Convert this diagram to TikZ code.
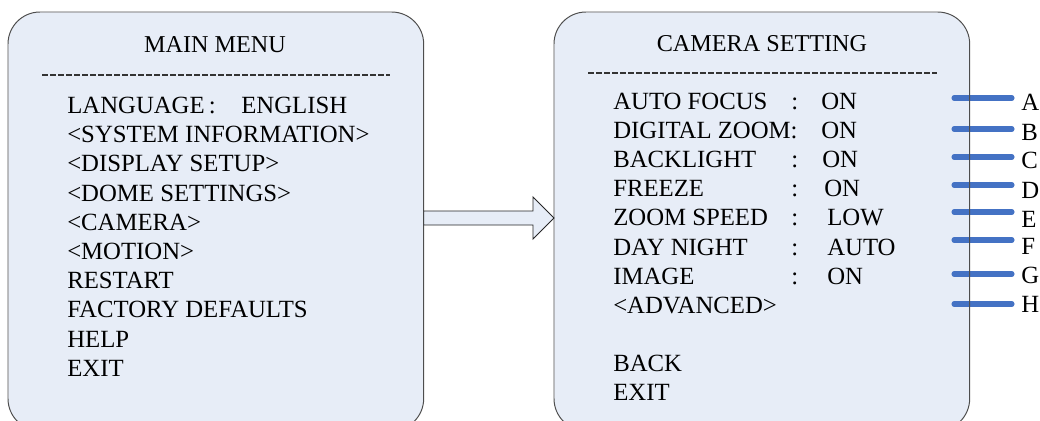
\documentclass[tikz,border=0pt]{standalone}
\usepackage{fontspec}
\setmainfont{Liberation Serif}
\usetikzlibrary{calc}
\definecolor{panelc}{HTML}{E7EDF7}
\definecolor{edgec}{HTML}{4D4D4D}
\definecolor{tickc}{HTML}{4472C4}
\newcommand\menufont{\fontsize{17.6}{20}\selectfont}

\begin{document}
\begin{tikzpicture}[x=0.025cm,y=-0.025cm,
      panel/.style={fill=panelc,anchor=north west,inner sep=0,rounded corners=0.8cm,minimum width=10.375cm,minimum height=10.45cm},
      border/.style={draw=edgec,line width=0.7pt,rounded corners=0.8cm},
      item/.style={anchor=base west,inner sep=0,font=\menufont},
      title/.style={anchor=base,inner sep=0,font=\fontsize{17.2}{20}\selectfont},
      rule/.style={draw=black!80,line width=1.4pt,dash pattern=on 0.15cm off 0.05cm},
      tick/.style={draw=tickc,line width=3.6pt,line cap=round},
      arrowc/.style={draw=black!85,fill=panelc,line width=0.6pt},
    ]
    \path[use as bounding box] (0,0) rectangle (1040,421);
    \clip (0,0) rectangle (1040,421);
    % the two menu panels
    \node[panel] (lbox) at (8,12) {};
    \node[panel] (rbox) at (554,12) {};
    % main menu
    \node[title] (ltitle) at (215,52) {MAIN MENU};
    \draw[rule] (42,75) -- (390,75);
    \foreach \t [count=\i from 0] in {{\makebox[4.35cm][l]{LANGUAGE\,:}ENGLISH},
        <SYSTEM INFORMATION>,<DISPLAY SETUP>,<DOME SETTINGS>,<CAMERA>,
        <MOTION>,RESTART,FACTORY DEFAULTS,HELP,EXIT} {
      \node[item] (lm\i) at (67,{113.5+29.2*\i}) {\t};
    }
    % camera setting
    \node[title] (rtitle) at (762,51) {CAMERA SETTING};
    \draw[rule] (588,73) -- (937,73);
    \foreach \n/\c/\v/\vx [count=\i from 0] in {AUTO FOCUS/:/ON/821,
        DIGITAL ZOOM:/{}/ON/821,BACKLIGHT/:/ON/822,FREEZE/:/ON/824,
        ZOOM SPEED/:/LOW/827,DAY NIGHT/:/AUTO/827,IMAGE/:/ON/827} {
      \node[item] (rm\i) at (613,{109.3+29.15*\i}) {\n};
      \node[item] (rc\i) at (791,{109.3+29.15*\i}) {\c};
      \node[item] (rv\i) at (\vx,{109.3+29.15*\i}) {\v};
    }
    \node[item] (rm7) at (613,313.3) {<ADVANCED>};
    \node[item] (rm9) at (613,371.7) {BACK};
    \node[item] (rm10) at (613,400.8) {EXIT};
    % markers A--H
    \foreach \l/\ly/\b in {A/98/110,B/129/140,C/157/168,D/185/198,
        E/212/227,F/240/254,G/274/283,H/304/312} {
      \coordinate (t\l) at (954,\ly);
      \node[item] (g\l) at (1021,\b) {\l};
      \draw[tick,shorten >=0.225cm] (t\l) -- (t\l -| g\l.west);
    }
    \draw[border] (lbox.north west) rectangle (lbox.south east);
    \draw[border] (rbox.north west) rectangle (rbox.south east);
    % arrow between the panels
    \draw[arrowc] (lbox.east |- 0,211) -- (533,211) -- (533,197)
      -- (rbox.west |- 0,218) -- (533,239) -- (533,225) -- (lbox.east |- 0,225) -- cycle;
  \end{tikzpicture}
\end{document}
